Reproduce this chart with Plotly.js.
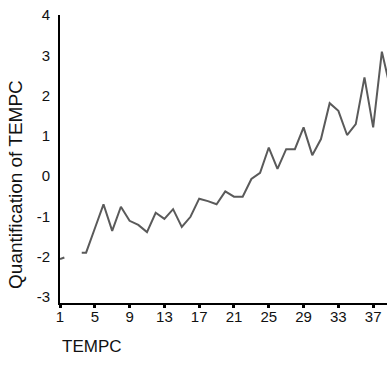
<!DOCTYPE html>
<html>
<head>
<meta charset="utf-8">
<script src="https://cdn.plot.ly/plotly-3.0.1.min.js"></script>
<style>
  html, body { margin: 0; padding: 0; background: #fff; overflow: hidden; }
  #chart { width: 387px; height: 375px; }
</style>
</head>
<body>
<div id="chart"></div>
<script>
// Category positions of TEMPC (a null value breaks the line where categories are empty)
const tempc = [1, 1.5, 2.5, 3.5, 4, 5, 6, 7, 8, 9, 10, 11, 12, 13, 14, 15, 16, 17, 18, 19,
               20, 21, 22, 23, 24, 25, 26, 27, 28, 29, 30, 31, 32, 33, 34, 35, 36, 37, 38, 39];
// Optimal-scaling quantifications for each category
const quantification = [-2.06, -2.02, null, -1.90, -1.90, -1.30, -0.70, -1.36, -0.76, -1.11,
                        -1.21, -1.39, -0.91, -1.06, -0.82, -1.26, -1.01, -0.56, -0.62, -0.70,
                        -0.38, -0.51, -0.51, -0.07, 0.08, 0.71, 0.18, 0.67, 0.67, 1.21,
                        0.52, 0.92, 1.81, 1.62, 1.02, 1.29, 2.45, 1.21, 3.09, 2.15];
const xTicks = [1, 5, 9, 13, 17, 21, 25, 29, 33, 37];
const yTicks = [-3, -2, -1, 0, 1, 2, 3, 4];

const font = 'Liberation Sans, Arial, sans-serif';

const trace = {
  x: tempc,
  y: quantification,
  type: 'scatter',
  mode: 'lines',
  connectgaps: false,
  line: { color: '#5a5a5a', width: 2 },
  hoverinfo: 'skip'
};

const layout = {
  width: 387,
  height: 375,
  margin: { l: 60, r: 0, t: 15, b: 72 },
  paper_bgcolor: '#ffffff',
  plot_bgcolor: '#ffffff',
  showlegend: false,
  font: { family: font, color: '#111111', size: 15 },
  xaxis: {
    range: [1, 38.59],
    tickmode: 'array',
    tickvals: xTicks,
    ticktext: xTicks.map(String),
    ticks: 'outside',
    ticklen: 3,
    tickwidth: 3,
    tickcolor: '#000000',
    ticklabelstandoff: -4,
    showline: true,
    linecolor: '#000000',
    linewidth: 2,
    showgrid: false,
    zeroline: false,
    tickfont: { family: font, size: 15, color: '#111111' }
  },
  yaxis: {
    range: [-3.15, 4],
    tickmode: 'array',
    tickvals: yTicks,
    ticktext: yTicks.map(String),
    ticks: '',
    ticklabelstandoff: 5,
    showline: true,
    linecolor: '#000000',
    linewidth: 2,
    showgrid: false,
    zeroline: false,
    tickfont: { family: font, size: 15, color: '#111111' }
  },
  annotations: [
    {
      text: 'TEMPC',
      xref: 'paper', yref: 'paper',
      x: 0, y: -0.15,
      xanchor: 'left', yanchor: 'middle',
      showarrow: false,
      font: { family: font, size: 17, color: '#111111' }
    },
    {
      text: 'Quantification of TEMPC',
      xref: 'paper', yref: 'paper',
      x: 0, y: 0.41,
      xshift: -44,
      xanchor: 'center', yanchor: 'middle',
      textangle: -90,
      showarrow: false,
      font: { family: font, size: 19, color: '#111111' }
    }
  ]
};

Plotly.newPlot('chart', [trace], layout, { displayModeBar: false, staticPlot: true });
</script>
</body>
</html>
